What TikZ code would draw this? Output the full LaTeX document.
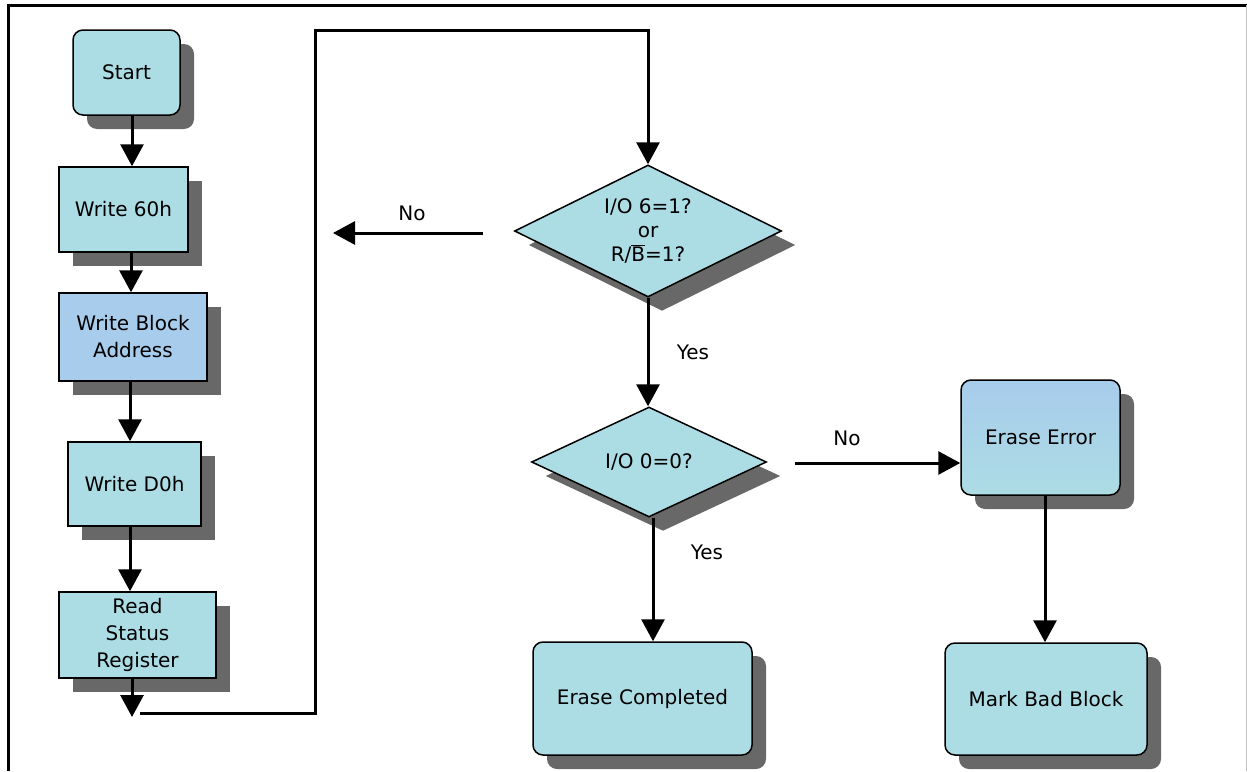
\documentclass[tikz,border=0pt]{standalone}
\usepackage{fontspec}
\setmainfont{DejaVu Sans}
\usetikzlibrary{arrows.meta,shapes.geometric,shadows}
\definecolor{boxfill}{RGB}{172,220,228}
\definecolor{bluefill}{RGB}{168,204,236}
\definecolor{shadowgray}{RGB}{104,104,104}
\begin{document}
\begin{tikzpicture}[x=1pt,y=-1pt,
  txt/.style={font=\fontsize{20}{27}\selectfont},
  shad/.style={drop shadow={shadow xshift=14pt,shadow yshift=-14pt,fill=shadowgray,opacity=1}},
  box/.style={txt,draw=black,line width=1.5pt,fill=boxfill,inner sep=0pt,align=center,shad},
  rbox/.style={box,rounded corners=10pt},
  dec/.style={box,diamond,aspect=2},
  arr/.style={line width=3pt,-{Triangle[width=23pt,length=22pt]}},
  conn/.style={line width=3pt},
  lbl/.style={txt}
]
\useasboundingbox (0,0) rectangle (1247,771);
% frame
\draw[line width=3pt] (8,771) -- (8,5) -- (1247,5);
\draw[line width=1pt,black!25] (1246,5) -- (1246,771);

% left column
\node[rbox,minimum width=107pt,minimum height=85pt] (start) at (126.5,72.5) {Start};
\node[box,minimum width=129pt,minimum height=85pt] (w60) at (123.5,209.5) {Write 60h};
\node[box,fill=bluefill,minimum width=148pt,minimum height=88pt] (wba) at (133,337) {Write Block\\Address};
\node[box,minimum width=133pt,minimum height=84pt] (wd0) at (134.5,484) {Write D0h};
\node[box,minimum width=157pt,minimum height=86pt] (rsr) at (137.5,635) {Read\\Status\\Register};

% decisions
\node[dec,minimum width=267pt,minimum height=132pt] (d1) at (648,231)
  {I/O 6=1?\\[-3pt]or\\[-3pt]R/\(\overline{\mbox{B}}\)=1?};
\node[dec,minimum width=235pt,minimum height=110pt] (d2) at (649,462) {I/O 0=0?};

% results
\node[rbox,minimum width=219pt,minimum height=113pt] (ec) at (642.5,698.5) {Erase Completed};
\node[rbox,top color=bluefill,bottom color=boxfill,minimum width=159pt,minimum height=115pt] (ee) at (1040.5,437.5) {Erase Error};
\node[rbox,minimum width=202pt,minimum height=112pt] (mbb) at (1046,699) {Mark Bad Block};

% coordinates for free ends
\coordinate (rsrend) at (132,717);
\coordinate (loopstart) at (140,713);
\coordinate (loopcorner) at (315,30);
\coordinate (nofrom) at (483,233);
\coordinate (noto) at (333,233);
\coordinate (no2from) at (795,463);

% connectors
\draw[arr] (start.south -| 132,0) -- (w60.north -| 132,0);
\draw[arr] (w60.south -| 131,0) -- (wba.north -| 131,0);
\draw[arr] (wba.south -| 130,0) -- (wd0.north -| 130,0);
\draw[arr] (wd0.south -| 130,0) -- (rsr.north -| 130,0);
\draw[arr] (rsr.south -| rsrend) -- (rsrend);
\draw[conn,-{Triangle[width=23pt,length=22pt]}] (loopstart) -| (loopcorner) -| (d1.north);
\draw[arr] (nofrom) -- (noto);
\draw[arr] (d1.south) -- (d1.south |- d2.north);
\draw[arr] (no2from) -- (no2from -| ee.west);
\draw[arr] (d2.south -| 653,0) -- (ec.north -| 653,0);
\draw[arr] (ee.south -| 1045,0) -- (mbb.north -| 1045,0);

% labels
\node[lbl] (lno1) at (412,213) {No};
\node[lbl] (lyes1) at (693,352) {Yes};
\node[lbl] (lno2) at (847,438) {No};
\node[lbl] (lyes2) at (707,552) {Yes};
\end{tikzpicture}
\end{document}
